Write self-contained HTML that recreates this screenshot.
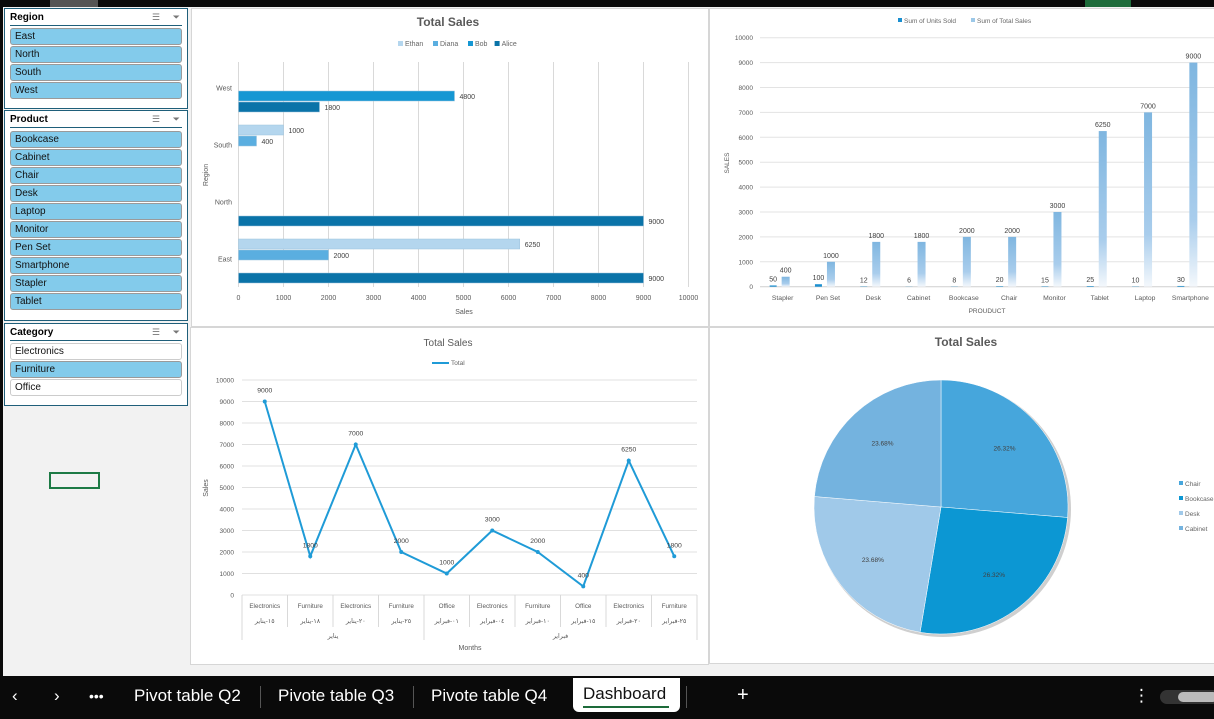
<!DOCTYPE html>
<html><head><meta charset="utf-8">
<style>
body{margin:0;width:1214px;height:719px;overflow:hidden;background:#f2f2f2;font-family:"Liberation Sans","DejaVu Sans",sans-serif;position:relative}
.abs{position:absolute}
.slicer{position:absolute;left:4px;width:184px;border:1px solid #1f5f7a;background:#fff;box-sizing:border-box}
.slicer .hd{font-size:10px;font-weight:bold;color:#000;margin:3px 5px 0 5px;border-bottom:1px solid #1f5f7a;height:13px;position:relative}
.slicer .hd span.ic{position:absolute;top:0;font-size:9px;color:#777;font-weight:normal}
.btn{position:absolute;left:5px;width:166px;height:15px;border:1px solid #9a9a9a;border-radius:3px;background:#83cbeb;font-size:10px;line-height:15px;padding-left:4px;color:#111}
.btn.off{background:#fff;border-color:#ccc}
.panel{position:absolute;background:#fff;border:1px solid #d6d6d6;box-sizing:border-box}
svg text{font-family:"Liberation Sans","DejaVu Sans",sans-serif}
.tab{position:absolute;top:686px;font-size:17px;color:#fff}
</style></head><body>
<div class="abs" style="left:0;top:0;width:1214px;height:7px;background:#0a0a0a"></div>
<div class="abs" style="left:50px;top:0;width:48px;height:7px;background:#555"></div>
<div class="abs" style="left:1085px;top:0;width:46px;height:7px;background:#1d6b3a"></div>
<div class="abs" style="left:0;top:7px;width:3px;height:669px;background:#0a0a0a"></div>

<div class="slicer" style="top:8px;height:101px">
 <div class="hd">Region<span class="ic" style="right:22px">☰</span><span class="ic" style="right:2px">⏷</span></div>
 <div class="btn" style="top:19px">East</div>
 <div class="btn" style="top:37px">North</div>
 <div class="btn" style="top:55px">South</div>
 <div class="btn" style="top:73px">West</div>
</div>
<div class="slicer" style="top:110px;height:211px">
 <div class="hd">Product<span class="ic" style="right:22px">☰</span><span class="ic" style="right:2px">⏷</span></div>
 <div class="btn" style="top:20px">Bookcase</div>
 <div class="btn" style="top:38px">Cabinet</div>
 <div class="btn" style="top:56px">Chair</div>
 <div class="btn" style="top:74px">Desk</div>
 <div class="btn" style="top:92px">Laptop</div>
 <div class="btn" style="top:110px">Monitor</div>
 <div class="btn" style="top:128px">Pen Set</div>
 <div class="btn" style="top:146px">Smartphone</div>
 <div class="btn" style="top:164px">Stapler</div>
 <div class="btn" style="top:182px">Tablet</div>
</div>
<div class="slicer" style="top:323px;height:83px">
 <div class="hd">Category<span class="ic" style="right:22px">☰</span><span class="ic" style="right:2px">⏷</span></div>
 <div class="btn off" style="top:19px">Electronics</div>
 <div class="btn" style="top:37px">Furniture</div>
 <div class="btn off" style="top:55px">Office</div>
</div>
<div class="abs" style="left:49px;top:472px;width:47px;height:13px;border:2px solid #1d7a45"></div>

<div class="panel" style="left:191px;top:8px;width:518px;height:319px"></div>
<div class="panel" style="left:709px;top:8px;width:506px;height:319px;border-right:none"></div>
<div class="panel" style="left:190px;top:327px;width:519px;height:338px"></div>
<div class="panel" style="left:709px;top:327px;width:506px;height:337px;border-right:none"></div>

<svg id="chart" class="abs" style="left:0;top:0" width="1214" height="676">
 <defs>
  <linearGradient id="colg" x1="0" y1="0" x2="0" y2="1"><stop offset="0" stop-color="#7fb6e0"/><stop offset="0.7" stop-color="#a9cdec"/><stop offset="1" stop-color="#f4f8fc"/></linearGradient>
 </defs>
 <g id="g1"></g><g id="g2"></g><g id="g3"></g><g id="g4"></g>
</svg>

<div class="abs" style="left:0;top:676px;width:1214px;height:43px;background:#0a0a0a"></div>
<div class="tab" style="left:12px">&#x2039;</div>
<div class="tab" style="left:54px">&#x203A;</div>
<div class="tab" style="left:89px;font-size:14px;top:688px">•••</div>
<div class="tab" style="left:134px">Pivot table Q2</div>
<div class="abs" style="left:260px;top:686px;width:1px;height:22px;background:#555"></div>
<div class="tab" style="left:278px">Pivote table Q3</div>
<div class="abs" style="left:413px;top:686px;width:1px;height:22px;background:#555"></div>
<div class="tab" style="left:431px">Pivote table Q4</div>
<div class="abs" style="left:573px;top:678px;width:107px;height:34px;background:#fff;border-radius:0 0 6px 6px"></div>
<div class="tab" style="left:583px;top:684px;color:#111">Dashboard</div>
<div class="abs" style="left:583px;top:706px;width:86px;height:2px;background:#1d6b3a"></div>
<div class="abs" style="left:686px;top:686px;width:1px;height:22px;background:#555"></div>
<div class="tab" style="left:737px;font-size:20px;top:684px">+</div>
<div class="tab" style="left:1133px">⋮</div>
<div class="abs" style="left:1160px;top:690px;width:60px;height:14px;background:#333;border-radius:7px"></div>
<div class="abs" style="left:1178px;top:692px;width:40px;height:10px;background:#bbb;border-radius:5px"></div>

<script>
// ---------- Bar chart data ----------
const regions = ["East","North","South","West"];
const barSeries = ["Ethan","Diana","Bob","Alice"];
const ethanVals = [6250,0,1000,0];
const dianaVals = [2000,0,400,0];
const bobVals = [0,0,0,4800];
const aliceVals = [9000,9000,0,1800];
const barTicks = [0,1000,2000,3000,4000,5000,6000,7000,8000,9000,10000];
// ---------- Column chart data ----------
const products = ["Stapler","Pen Set","Desk","Cabinet","Bookcase","Chair","Monitor","Tablet","Laptop","Smartphone"];
const unitsSold = [50,100,12,6,8,20,15,25,10,30];
const totalSales = [400,1000,1800,1800,2000,2000,3000,6250,7000,9000];
const colTicks = [0,1000,2000,3000,4000,5000,6000,7000,8000,9000,10000];
// ---------- Line chart data ----------
const lineCats = ["Electronics","Furniture","Electronics","Furniture","Office","Electronics","Furniture","Office","Electronics","Furniture"];
const lineDates = ["١٥-يناير","١٨-يناير","٢٠-يناير","٢٥-يناير","٠١-فبراير","٠٤-فبراير","١٠-فبراير","١٥-فبراير","٢٠-فبراير","٢٥-فبراير"];
const lineMonths = ["يناير","فبراير"];
const lineMonthCounts = [4,6];
const lineVals = [9000,1800,7000,2000,1000,3000,2000,400,6250,1800];
const lineTicks = [0,1000,2000,3000,4000,5000,6000,7000,8000,9000,10000];
// ---------- Pie data ----------
const pieLabels = ["Chair","Bookcase","Desk","Cabinet"];
const pieVals = [2000,2000,1800,1800];

const NS="http://www.w3.org/2000/svg";
function mk(parent,tag,attrs,text){const e=document.createElementNS(NS,tag);for(const k in attrs)e.setAttribute(k,attrs[k]);if(text!==undefined)e.textContent=text;parent.appendChild(e);return e;}

// ===== Bar chart =====
(function(){
 const g=document.getElementById('g1');
 const x=v=>238.5+v/10000*450, bandTop=59.5, band=57;
 const yc=i=>bandTop+(regions.length-1-i)*band+band/2;
 const offs=[-15,-4,8,19];
 const colors=["#b4d6ee","#5aaee0","#1597d3","#0a73a8"];
 const vals=[ethanVals,dianaVals,bobVals,aliceVals];
 let t=mk(g,'text',{x:448,y:26,'text-anchor':'middle','font-size':12,'font-weight':'bold',fill:'#595959'},'Total Sales');
 
 let lx=398;
 barSeries.forEach((s,i)=>{
  const r=mk(g,'rect',{x:lx,y:41,width:5,height:5,fill:colors[i]});
  
  const tt=mk(g,'text',{x:lx+7,y:46,'font-size':7,fill:'#666'},s);
  
  lx+=s.length*4.2+14;
 });
 barTicks.forEach(v=>{
  const l=mk(g,'line',{x1:x(v),x2:x(v),y1:62,y2:287,stroke:'#d9d9d9','stroke-width':1});
  
  const tt=mk(g,'text',{x:x(v),y:300,'text-anchor':'middle','font-size':7,fill:'#595959'},v);
  
 });
 regions.forEach((r,i)=>{
  const tt=mk(g,'text',{x:232,y:yc(i)-band/2+31,'text-anchor':'end','font-size':7,fill:'#595959'},r);
  
  vals.forEach((arr,s)=>{
   if(!arr[i])return;
   const yy=yc(i)+offs[s]-5;
   const b=mk(g,'rect',{x:x(0),y:yy,width:x(arr[i])-x(0),height:10,fill:colors[s],stroke:'#9ec3dc','stroke-width':0.5});
   
   const lb=mk(g,'text',{x:x(arr[i])+5,y:yy+8,'font-size':7,fill:'#404040'},arr[i]);
   
  });
 });
 t=mk(g,'text',{x:464,y:314,'text-anchor':'middle','font-size':7,fill:'#595959'},'Sales');
 
 t=mk(g,'text',{x:208,y:175,'text-anchor':'middle','font-size':7,fill:'#595959',transform:'rotate(-90 208 175)'},'Region');
 
})();

// ===== Column chart =====
(function(){
 const g=document.getElementById('g2');
 const y=v=>286.7-v/10000*249, x0=760, bw=45.3;
 let lx=898;
 [["Sum of Units Sold","#1a8fd0"],["Sum of Total Sales","#9cc8e8"]].forEach(([s,c],i)=>{
  const r=mk(g,'rect',{x:lx,y:18,width:4,height:4,fill:c});
  
  const tt=mk(g,'text',{x:lx+6,y:23,'font-size':6.5,fill:'#666'},s);
  
  lx+=73;
 });
 colTicks.forEach(v=>{
  const l=mk(g,'line',{x1:x0,x2:1214,y1:y(v),y2:y(v),stroke:v?'#e3e3e3':'#cfcfcf','stroke-width':1});
  
  const tt=mk(g,'text',{x:753,y:y(v)+2.5,'text-anchor':'end','font-size':6.5,fill:'#595959'},v);
  
 });
 products.forEach((p,i)=>{
  const cx=x0+bw*(i+0.5);
  const u=mk(g,'rect',{x:cx-13,y:y(unitsSold[i]),width:7,height:286.7-y(unitsSold[i]),fill:'#1a8fd0'});
  
  let tt=mk(g,'text',{x:cx-9.5,y:y(unitsSold[i])-4,'text-anchor':'middle','font-size':7,fill:'#404040'},unitsSold[i]);
  
  const b=mk(g,'rect',{x:cx-1,y:y(totalSales[i]),width:8,height:286.7-y(totalSales[i]),fill:'url(#colg)'});
  
  tt=mk(g,'text',{x:cx+3,y:y(totalSales[i])-4,'text-anchor':'middle','font-size':7,fill:'#404040'},totalSales[i]);
  
  tt=mk(g,'text',{x:cx,y:300,'text-anchor':'middle','font-size':6.8,fill:'#595959'},p);
  
 });
 let t=mk(g,'text',{x:987,y:313,'text-anchor':'middle','font-size':6.5,fill:'#595959'},'PROUDUCT');
 
 t=mk(g,'text',{x:729,y:163,'text-anchor':'middle','font-size':6.5,fill:'#595959',transform:'rotate(-90 729 163)'},'SALES');
 
})();

// ===== Line chart =====
(function(){
 const g=document.getElementById('g3');
 const y=v=>595-v/10000*215, x0=242, cw=45.5;
 const x=i=>x0+cw*(i+0.5);
 let t=mk(g,'text',{x:448,y:346,'text-anchor':'middle','font-size':10,fill:'#595959'},'Total Sales');
 
 let l=mk(g,'line',{x1:432,x2:449,y1:363,y2:363,stroke:'#1f9bd7','stroke-width':2});
 
 t=mk(g,'text',{x:451,y:365,'font-size':6.5,fill:'#666'},'Total');
 
 lineTicks.forEach(v=>{
  const gl=mk(g,'line',{x1:x0,x2:697,y1:y(v),y2:y(v),stroke:'#e0e0e0','stroke-width':1});
  
  const tt=mk(g,'text',{x:234,y:y(v)+2.5,'text-anchor':'end','font-size':6.5,fill:'#595959'},v);
  
 });
 for(let i=0;i<=lineCats.length;i++){
  const full=(i===0||i===lineCats.length||i===lineMonthCounts[0]);
  const vl=mk(g,'line',{x1:x0+cw*i,x2:x0+cw*i,y1:595,y2:full?640:627,stroke:'#d9d9d9','stroke-width':1});
  
 }
 lineCats.forEach((c,i)=>{
  let tt=mk(g,'text',{x:x(i),y:608,'text-anchor':'middle','font-size':6.3,fill:'#595959'},c);
  
  tt=mk(g,'text',{x:x(i),y:623,'text-anchor':'middle','font-size':6.3,fill:'#595959'},lineDates[i]);
  
 });
 let start=0;
 lineMonths.forEach((m,k)=>{
  const mid=x0+cw*(start+lineMonthCounts[k]/2);
  const tt=mk(g,'text',{x:mid,y:638,'text-anchor':'middle','font-size':6.3,fill:'#595959'},m);
  
  start+=lineMonthCounts[k];
 });
 t=mk(g,'text',{x:470,y:650,'text-anchor':'middle','font-size':7,fill:'#595959'},'Months');
 
 t=mk(g,'text',{x:208,y:488,'text-anchor':'middle','font-size':7,fill:'#595959',transform:'rotate(-90 208 488)'},'Sales');
 
 const pts=lineVals.map((v,i)=>x(i)+','+y(v)).join(' ');
 const pl=mk(g,'polyline',{points:pts,fill:'none',stroke:'#1f9bd7','stroke-width':2});
 
 lineVals.forEach((v,i)=>{
  const c=mk(g,'circle',{cx:x(i),cy:y(v),r:2,fill:'#1f9bd7'});
  
  const tt=mk(g,'text',{x:x(i),y:y(v)-9,'text-anchor':'middle','font-size':6.8,fill:'#404040'},v);
  
 });
})();

// ===== Pie chart =====
(function(){
 const g=document.getElementById('g4');
 const cx=941,cy=507,R=127;
 const colors=["#46a6dc","#0c97d3","#a0c9e9","#74b3df"];
 let t=mk(g,'text',{x:966,y:346,'text-anchor':'middle','font-size':12,'font-weight':'bold',fill:'#595959'},'Total Sales');
 
 const sh=mk(g,'circle',{cx:cx+2,cy:cy+2,r:R+1,fill:'#cfcfcf'});
 
 const tot=pieVals.reduce((a,b)=>a+b,0);
 let a=-Math.PI/2;
 pieVals.forEach((v,i)=>{
  const da=v/tot*2*Math.PI, a2=a+da;
  const p=mk(g,'path',{d:`M${cx},${cy} L${cx+R*Math.cos(a)},${cy+R*Math.sin(a)} A${R},${R} 0 ${da>Math.PI?1:0} 1 ${cx+R*Math.cos(a2)},${cy+R*Math.sin(a2)} Z`,fill:colors[i],stroke:'#fff','stroke-width':0.5});
  
  const m=(a+a2)/2;
  const tt=mk(g,'text',{x:cx+R*0.68*Math.cos(m),y:cy+R*0.68*Math.sin(m)+2,'text-anchor':'middle','font-size':6.5,fill:'#404040'},(v/tot*100).toFixed(2)+'%');
  
  a=a2;
  const r=mk(g,'rect',{x:1179,y:481+i*15,width:4,height:4,fill:colors[i]});
  
  const lt=mk(g,'text',{x:1185,y:486+i*15,'font-size':6.5,fill:'#666'},pieLabels[i]);
  
 });
})();
</script>
</body></html>
